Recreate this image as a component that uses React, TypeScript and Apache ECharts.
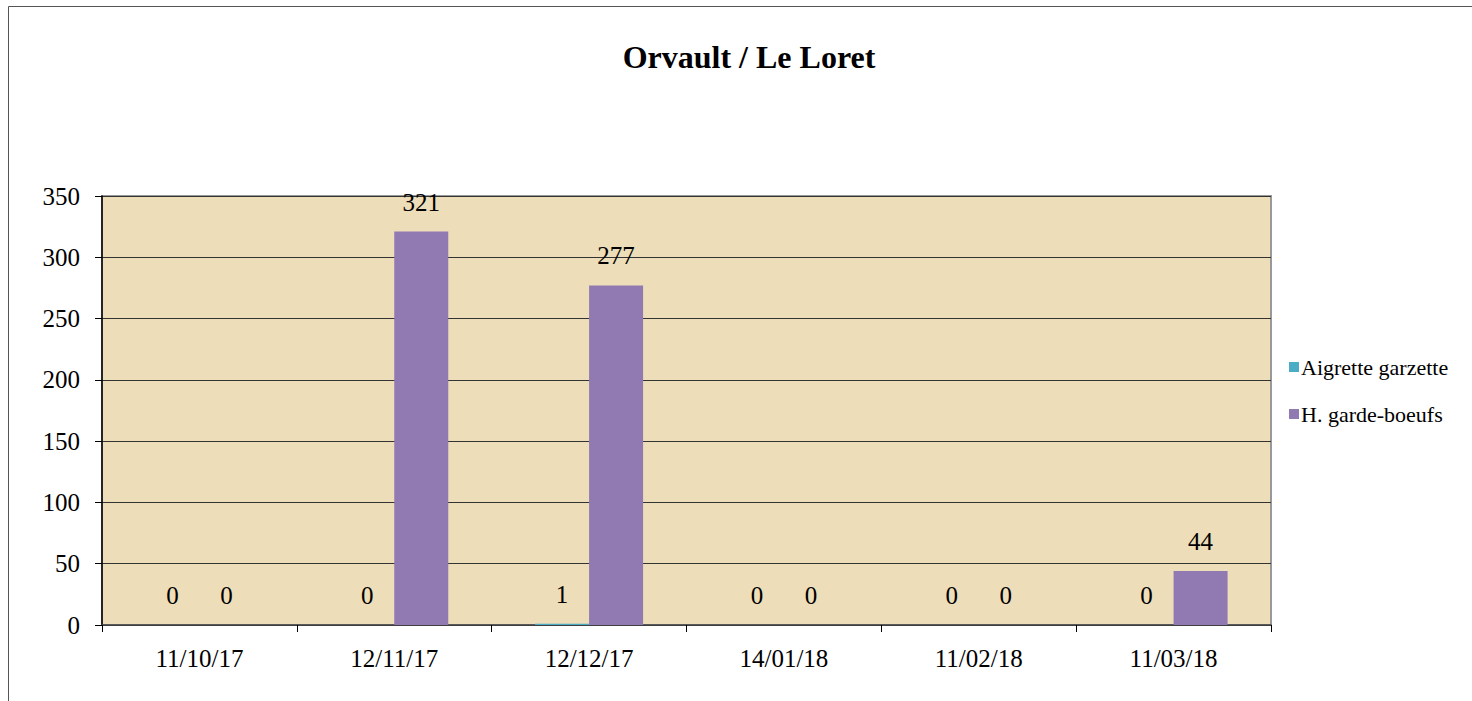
import React, { useEffect, useRef } from "react";
import * as echarts from "echarts";

const title = "Orvault / Le Loret";
const categories = ["11/10/17", "12/11/17", "12/12/17", "14/01/18", "11/02/18", "11/03/18"];
const seriesNames = ["Aigrette garzette", "H. garde-boeufs"];
const aigretteValues = [0, 0, 1, 0, 0, 0];
const gardeBoeufsValues = [0, 321, 277, 0, 0, 44];
const yTicks = { min: 0, max: 350, interval: 50 };

const FONT = "'Liberation Serif', 'Times New Roman', serif";

export default function App() {
  const ref = useRef<HTMLDivElement>(null);
  useEffect(() => {
    if (!ref.current) return;
    const chart = echarts.init(ref.current, null, { renderer: "svg" });
    const labelCfg = {
      show: true,
      position: "top" as const,
      distance: 17,
      color: "#000",
      fontFamily: FONT,
      fontSize: 25,
    };
    chart.setOption({
      animation: false,
      backgroundColor: "#fff",
      textStyle: { fontFamily: FONT },
      graphic: [
        {
          type: "rect",
          shape: { x: 8.5, y: 6.5, width: 1500, height: 720 },
          style: { fill: "none", stroke: "#555", lineWidth: 1 },
          silent: true,
          z: -10,
        },
        {
          type: "text",
          x: 749,
          y: 57,
          style: {
            text: title,
            fontFamily: FONT,
            fontWeight: "bold",
            fontSize: 32,
            fill: "#000",
            align: "center",
            verticalAlign: "middle",
          },
        },
      ],
      grid: {
        left: 102,
        right: 201,
        top: 196,
        bottom: 76,
        show: true,
        backgroundColor: "#EDDDB9",
        borderColor: "#999",
        borderWidth: 2,
      },
      legend: {
        orient: "vertical",
        left: 1284,
        top: 350,
        itemWidth: 10,
        itemHeight: 10,
        itemGap: 23,
        icon: "rect",
        textStyle: { fontFamily: FONT, fontSize: 22, color: "#000", lineHeight: 24, padding: [0, 0, 0, -3] },
        data: seriesNames,
      },
      xAxis: {
        type: "category",
        data: categories,
        axisLine: { show: true, lineStyle: { color: "#444", width: 1.5 } },
        axisTick: { show: true, length: 7, lineStyle: { color: "#000" } },
        axisLabel: { color: "#000", fontFamily: FONT, fontSize: 25, margin: 21 },
      },
      yAxis: {
        type: "value",
        min: yTicks.min,
        max: yTicks.max,
        interval: yTicks.interval,
        axisLine: { show: true, lineStyle: { color: "#000", width: 1.5 } },
        axisTick: { show: true, length: 7, lineStyle: { color: "#000" } },
        axisLabel: { color: "#000", fontFamily: FONT, fontSize: 25, margin: 22 },
        splitLine: { show: true, lineStyle: { color: "#333", width: 1 } },
      },
      series: [
        {
          name: seriesNames[0],
          type: "bar",
          data: aigretteValues,
          itemStyle: { color: "#4BACC6" },
          barWidth: 54,
          barGap: "0%",
          label: labelCfg,
        },
        {
          name: seriesNames[1],
          type: "bar",
          data: gardeBoeufsValues,
          itemStyle: { color: "#9179B2" },
          barWidth: 54,
          barGap: "0%",
          label: labelCfg,
        },
      ],
    });
    return () => chart.dispose();
  }, []);
  return (
    <div
      ref={ref}
      style={{ position: "absolute", left: 0, top: 0, width: 1472, height: 701 }}
    />
  );
}
